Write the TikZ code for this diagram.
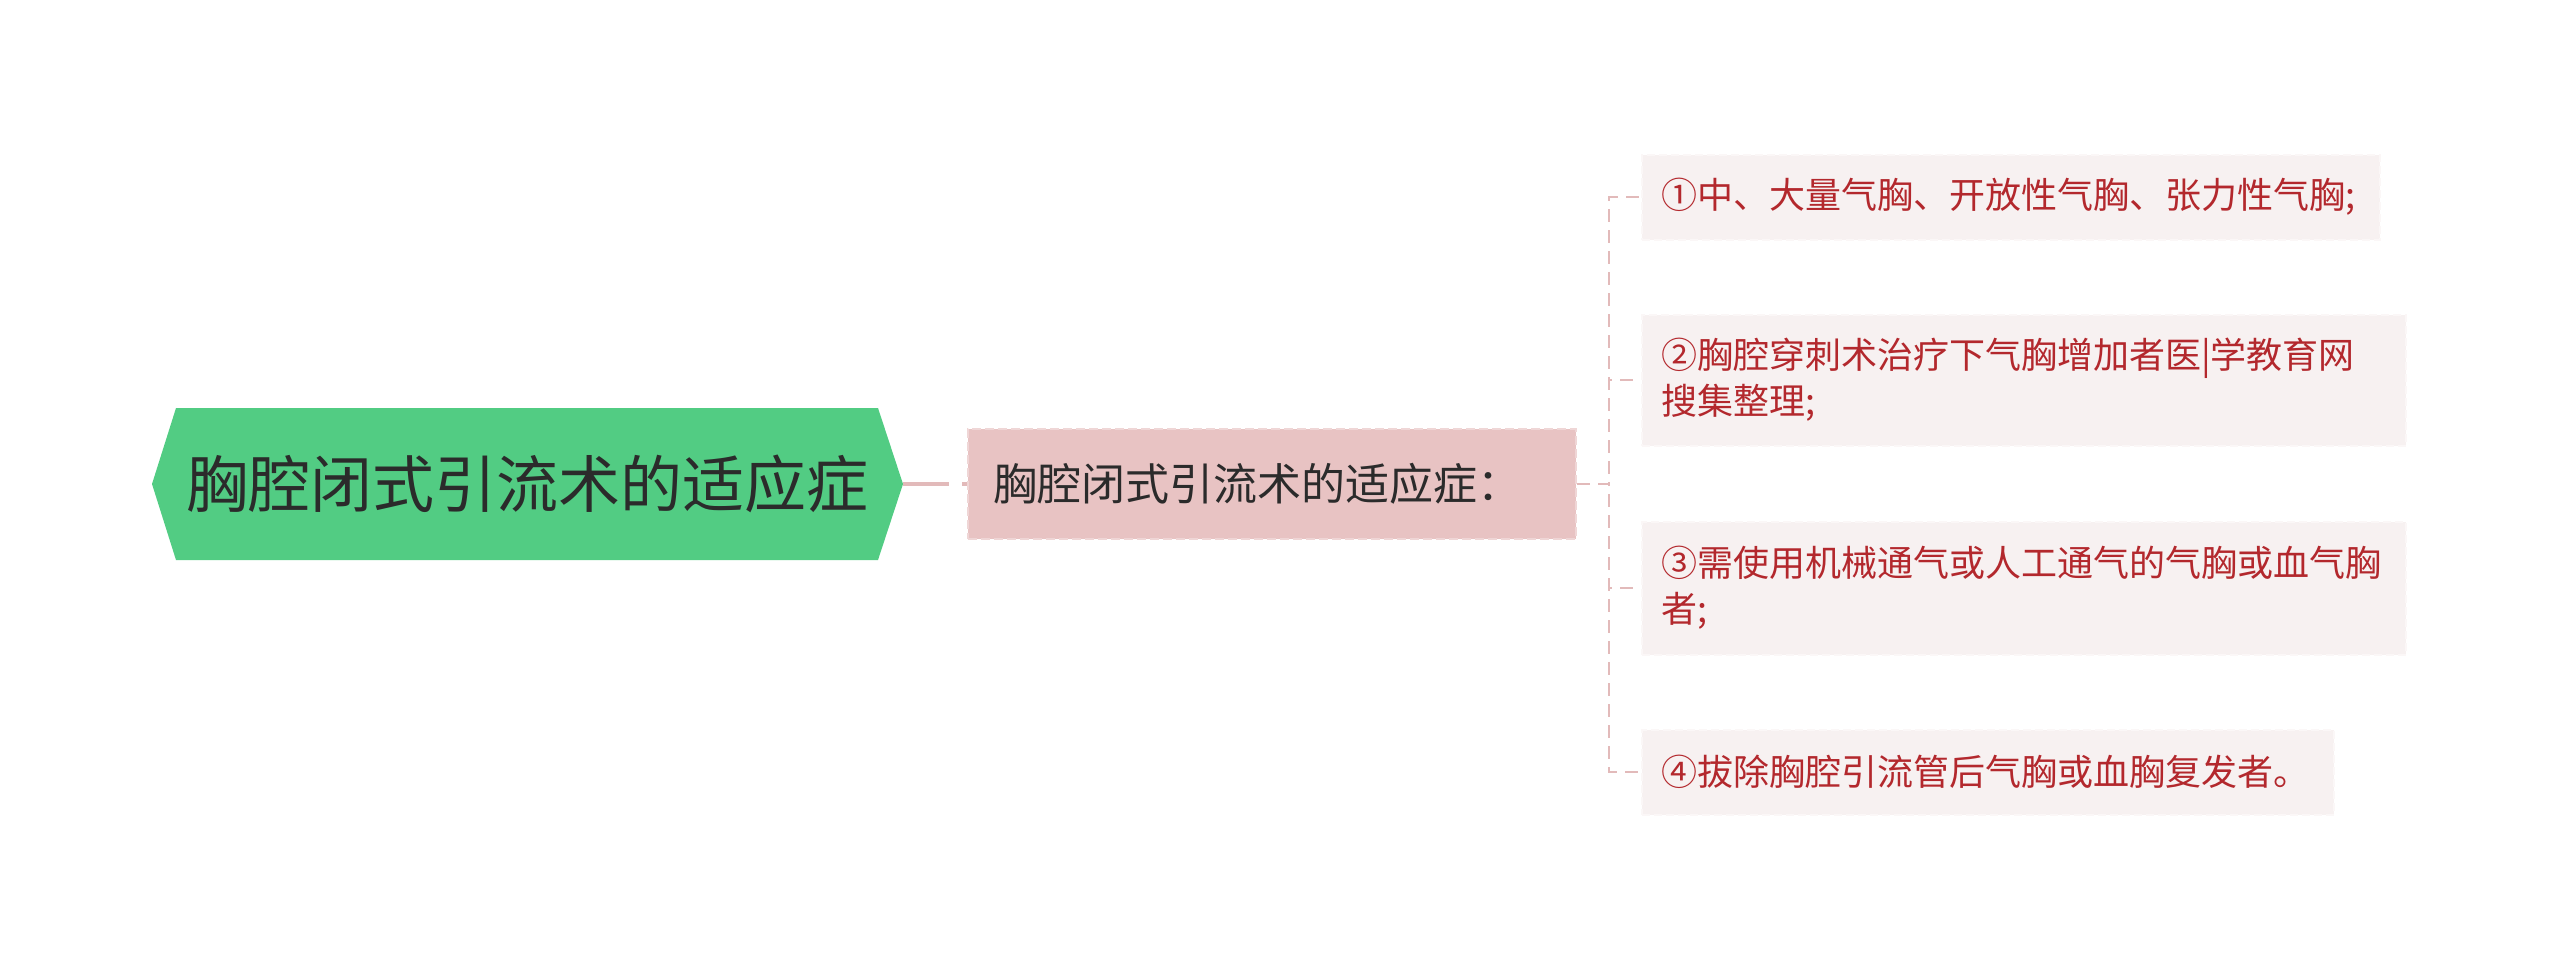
\documentclass[tikz,border=0pt]{standalone}
\usepackage{fontspec}
\setmainfont{Noto Sans CJK SC}
\definecolor{rootgreen}{HTML}{52CC83}
\definecolor{roottext}{HTML}{2B2B2B}
\definecolor{midfill}{HTML}{E8C3C3}
\definecolor{midborder}{HTML}{EFD6D6}
\definecolor{leaffill}{HTML}{F7F1F1}
\definecolor{leafborder}{HTML}{FBF7F7}
\definecolor{leaftext}{HTML}{B3282D}
\definecolor{linkpink}{HTML}{E2BABA}
\begin{document}
\begin{tikzpicture}[x=1pt,y=-1pt,
  midbox/.style={rectangle, fill=midfill, draw=midborder, line width=2.5pt, dash pattern=on 9pt off 4pt,
    inner xsep=25pt, inner ysep=0pt, align=left, text=roottext,
    font=\fontsize{44}{54}\selectfont},
  leafbox/.style={rectangle, anchor=west, fill=leaffill, draw=leafborder, line width=2pt, dash pattern=on 8pt off 4pt,
    inner xsep=19pt, inner ysep=0pt, align=left, text=leaftext,
    font=\fontsize{36}{46}\selectfont},
  rootlink/.style={draw=linkpink, line width=4.5pt, dash pattern=on 46pt off 13pt},
  leaflink/.style={draw=linkpink, line width=2.5pt, dash pattern=on 13pt off 8pt}
]
\useasboundingbox (0,0) rectangle (2560,969);
% root hexagon
\fill[rootgreen] (152,484) -- (176,408) -- (878,408) -- (903,484) -- (878,560) -- (176,560) -- cycle;
\node[rectangle, minimum width=751pt, minimum height=152pt, inner sep=0pt, text=roottext,
  font=\fontsize{62}{72}\selectfont] (root) at (527.5,484) {胸腔闭式引流术的适应症};
% middle
\node[midbox, text width=558pt, minimum height=110pt] (mid) at (1272,484) {胸腔闭式引流术的适应症：};
% leaves
\node[leafbox, text width=700pt, minimum height=85pt] (l1) at (1641,197) {①中、大量气胸、开放性气胸、张力性气胸;};
\node[leafbox, text width=726pt, minimum height=131pt] (l2) at (1641,380) {②胸腔穿刺术治疗下气胸增加者医|学教育网\\搜集整理;};
\node[leafbox, text width=726pt, minimum height=133pt] (l3) at (1641,588) {③需使用机械通气或人工通气的气胸或血气胸\\者;};
\node[leafbox, text width=654pt, minimum height=85pt] (l4) at (1641,772) {④拔除胸腔引流管后气胸或血胸复发者。};
% connectors
\draw[rootlink] (root.east) -- (mid.west);
\coordinate (hub) at (1609,484);
\foreach \n in {l1,l2,l3,l4}{
  \draw[leaflink] (mid.east) -- (hub) |- (\n.west);
}
\end{tikzpicture}
\end{document}
